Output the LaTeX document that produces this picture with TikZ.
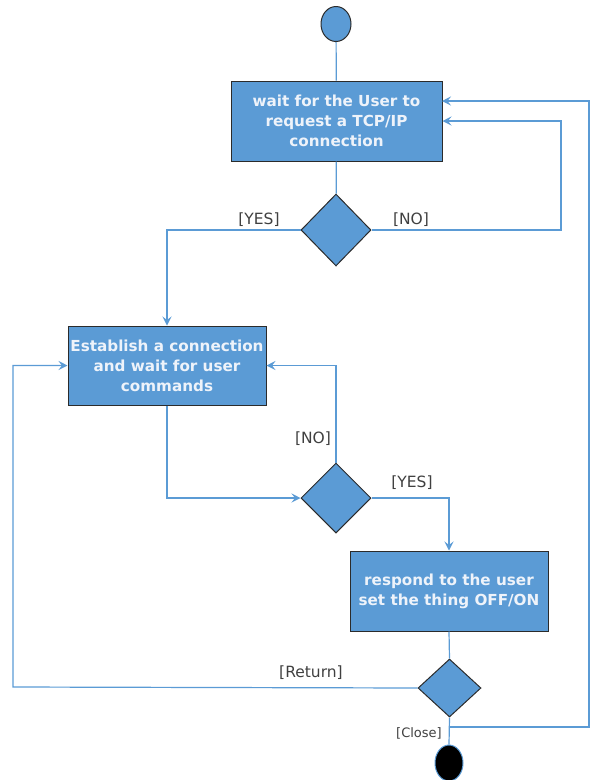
\documentclass[tikz,border=0pt]{standalone}
\usepackage{fontspec}
\setmainfont{DejaVu Sans}
\usetikzlibrary{shapes.geometric,arrows.meta}
\definecolor{uml}{HTML}{5B9BD5}
\definecolor{bord}{HTML}{2B2B2B}
\definecolor{lbl}{HTML}{404040}
\definecolor{txt}{HTML}{EEF3FA}
\begin{document}
\begin{tikzpicture}[x=1pt,y=-1pt,
 act/.style={draw=bord, fill=uml, line width=1pt, text=txt, align=center,
   font=\fontsize{15.2}{20}\selectfont\bfseries, inner sep=0pt},
 dec/.style={draw=bord, fill=uml, line width=1pt, diamond, inner sep=0pt},
 flow/.style={draw=uml, line width=1.2pt},
 arr/.style={flow, -{Stealth[length=9pt,width=9pt,inset=3.5pt]}},
 lab/.style={text=lbl, font=\fontsize{15.5}{18}\selectfont, inner sep=0pt}]
\useasboundingbox (0,0) rectangle (593,780);
% nodes
\node[ellipse, draw=bord, fill=uml, line width=1pt, minimum width=30pt, minimum height=35pt, inner sep=0pt] (start) at (336,24) {};
\node[act, minimum width=211pt, minimum height=80pt] (b1) at (336.5,121) {wait for the User to\\request a TCP/IP\\connection};
\node[dec, minimum width=70pt, minimum height=72pt] (d1) at (336,230) {};
\node[act, minimum width=198pt, minimum height=79pt] (b2) at (167,365.5) {Establish a connection\\and wait for user\\commands};
\node[dec, minimum width=70pt, minimum height=70pt] (d2) at (336,498) {};
\node[act, minimum width=198pt, minimum height=80pt] (b3) at (449,591) {respond to the user\\set the thing OFF/ON};
\node[dec, minimum width=63pt, minimum height=58pt] (d3) at (449.5,688) {};
\node[ellipse, draw=uml, fill=black, line width=1pt, minimum width=28pt, minimum height=36pt, inner sep=0pt] (end) at (449,763) {};
% helper coordinates
\coordinate (n1) at (561,121);
\coordinate (r1) at (589,101);
\coordinate (b1in) at (442,101);
\coordinate (cl) at (449,727);
\coordinate (ret) at (13,687);
% connectors
\draw[flow] (start) -- (b1);
\draw[flow] (b1) -- (d1);
\draw[arr] (d1.west) -| (b2.north);
\draw[arr] (d1.east) -| (n1) -- (b1.east);
\draw[arr] (b2.south) |- (d2.west);
\draw[arr] (d2.north) |- (b2.east);
\draw[arr] (d2.east) -| (b3.north);
\draw[flow] (b3.south) -- (d3.north);
\draw[arr] (d3.west) -- (ret) |- (b2.west);
\draw[flow] (d3.south) -- (end.north);
\draw[arr] (cl) -| (r1) -- (b1in);
% labels
\node[lab] (l1) at (259,220) {[YES]};
\node[lab] (l2) at (411,220) {[NO]};
\node[lab] (l3) at (313,439) {[NO]};
\node[lab] (l4) at (412,483) {[YES]};
\node[lab] (l5) at (311,673) {[Return]};
\node[lab, font=\fontsize{13}{15}\selectfont] (l6) at (419,733) {[Close]};
\end{tikzpicture}
\end{document}
